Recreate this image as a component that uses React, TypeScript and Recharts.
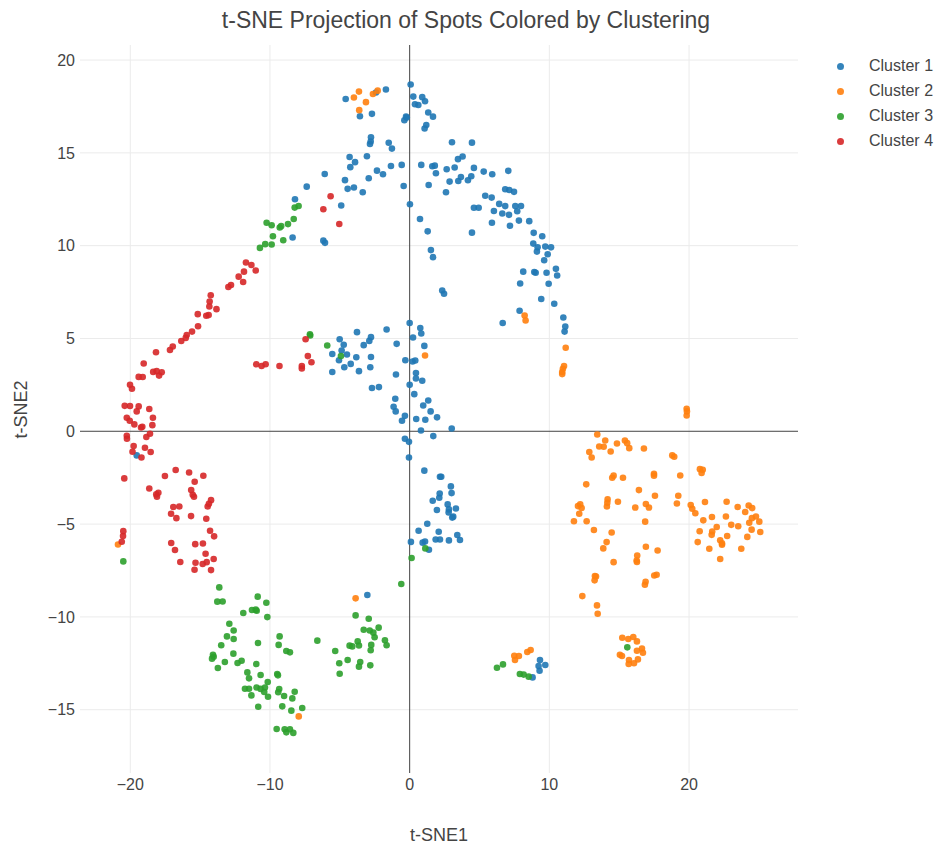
import React from 'react';
import { ScatterChart, Scatter, XAxis, YAxis, ReferenceLine } from 'recharts';

const clusterNames = ['Cluster 1', 'Cluster 2', 'Cluster 3', 'Cluster 4'];
const clusterColors = ['#1f77b4', '#ff7f0e', '#2ca02c', '#d62728'];
const xTicks = [-20, -10, 0, 10, 20];
const yTicks = [-15, -10, -5, 0, 5, 10, 15, 20];

// t-SNE coordinates, one list per cluster
const cluster1 = [
  [-7.37, 13.18], [-8.21, 12.5], [-8.38, 10.44], [-19.54, -1.3],
  [0.07, 18.68], [0.26, 18.03], [0.9, 18.0], [1.1, 17.78], [0.38, 17.62], [0.62, 17.58], [1.33, 17.17], [1.67, 16.95],
  [-0.26, 16.95], [-0.38, 16.76], [-0.21, 16.9], [1.19, 16.5], [1.07, 16.31], [-4.58, 17.9], [-2.41, 18.25], [-1.7, 18.41],
  [-3.56, 16.97], [-2.7, 17.1], [-2.77, 15.84], [-2.79, 15.61], [-2.84, 15.48], [-1.5, 15.54], [-1.27, 15.23], [-3.06, 14.82],
  [-4.3, 14.78], [-3.91, 14.5], [-4.25, 14.23], [-6.08, 13.86], [-4.63, 13.53], [-4.44, 13.06], [-3.99, 13.13], [-3.36, 12.88],
  [-2.93, 13.63], [-2.34, 14.04], [-1.91, 13.85], [-1.34, 14.29], [-0.57, 14.35], [-0.43, 13.21], [0.02, 12.23], [-4.9, 12.16],
  [-6.18, 10.27], [-6.06, 10.15], [0.74, 11.44], [1.29, 10.77], [1.52, 9.76], [1.67, 9.38], [2.33, 7.58], [2.46, 7.41],
  [0.83, 14.35], [1.62, 14.28], [1.8, 14.31], [1.88, 13.9], [1.36, 13.27], [2.65, 14.12], [3.22, 14.21], [2.86, 13.45],
  [3.48, 13.48], [2.6, 12.88], [3.03, 15.57], [4.46, 15.55], [3.46, 14.66], [3.79, 14.8], [3.67, 13.7], [4.17, 13.52],
  [4.41, 13.74], [4.6, 14.19], [5.3, 13.99], [5.91, 13.85], [7.06, 14.03], [4.6, 12.04], [4.94, 12.04], [5.41, 12.69],
  [5.87, 12.59], [6.84, 13.04], [7.13, 13.0], [7.47, 12.9], [6.41, 12.25], [6.84, 12.13], [6.03, 11.87], [6.63, 11.73],
  [7.11, 11.66], [7.56, 12.13], [7.97, 12.14], [7.7, 11.85], [5.89, 11.23], [7.18, 11.07], [7.82, 11.35], [8.56, 11.32],
  [4.46, 10.7], [8.88, 10.69], [9.49, 10.51], [8.85, 10.11], [9.16, 9.91], [9.11, 9.68], [9.71, 9.95], [10.12, 9.91],
  [9.88, 9.54], [9.63, 9.21], [10.47, 8.75], [8.13, 8.6], [8.92, 8.58], [9.02, 8.54], [9.8, 8.54], [7.91, 7.96],
  [10.56, 8.39], [9.95, 7.95], [9.42, 7.13], [10.35, 6.87], [7.87, 6.49], [6.66, 5.83], [11.0, 6.13], [11.14, 5.64], [11.09, 5.37],
  [0.0, 5.83], [0.76, 5.56], [0.83, 5.27], [0.24, 5.05], [-1.65, 5.48], [-3.77, 5.34], [-5.01, 4.96], [-4.72, 4.66],
  [-5.54, 4.16], [-4.87, 4.35], [-5.06, 3.83], [-4.49, 4.14], [-4.68, 3.45], [-4.22, 3.63], [-5.54, 3.19], [-3.82, 3.99],
  [-3.63, 3.24], [-2.77, 5.07], [-2.89, 4.87], [-3.29, 4.64], [-2.77, 4.0], [-2.82, 3.45], [-2.7, 2.33], [-2.2, 2.38],
  [-0.93, 4.71], [-0.31, 3.83], [0.21, 3.76], [0.4, 3.81], [1.05, 4.6], [-0.98, 3.06], [0.45, 3.14], [0.45, 2.84],
  [0.9, 2.72], [0.0, 2.5], [0.33, 2.0], [-1.03, 1.75], [-1.15, 1.32], [-1.0, 1.07], [-0.34, 0.83], [-0.55, 0.57],
  [0.97, 1.39], [1.33, 1.66], [1.5, 1.07], [1.96, 0.75], [0.47, 0.66], [1.12, 0.62], [0.81, 0.04], [3.01, 0.15],
  [-0.34, -0.4], [-0.05, -0.57], [1.69, -0.26], [-0.05, -1.41], [1.05, -2.12], [2.17, -2.45], [2.26, -2.45], [2.95, -2.97],
  [3.0, -3.33], [2.15, -3.35], [2.12, -3.58], [1.65, -3.74], [2.72, -3.94], [2.81, -4.21], [2.79, -4.37], [3.31, -4.16],
  [1.95, -4.24], [3.12, -4.6], [3.05, -4.65], [1.26, -4.98], [0.64, -5.36], [2.08, -5.41], [3.41, -5.59], [3.6, -5.86],
  [1.86, -5.83], [2.17, -5.83], [2.81, -5.88], [0.09, -5.96], [0.93, -6.0], [1.1, -5.94], [1.38, -6.38], [-3.03, -8.82],
  [9.33, -12.32], [9.71, -12.59], [9.23, -12.65], [9.3, -12.9], [8.8, -13.26],
];

const cluster2 = [
  [-3.99, 17.98], [-3.63, 18.3], [-3.13, 17.73], [-2.63, 18.17], [-2.29, 18.35], [-3.61, 17.3],
  [1.1, 4.08], [8.23, 6.24], [8.3, 5.97], [11.17, 4.5], [11.05, 3.51], [10.97, 3.37], [10.92, 3.19], [10.92, 3.08],
  [19.83, 1.21], [19.85, 1.07], [19.83, 0.85], [13.43, -0.17], [14.0, -0.5], [13.57, -0.82], [13.89, -0.83], [14.39, -1.09],
  [14.84, -0.66], [15.41, -0.5], [15.57, -0.64], [15.72, -0.91], [16.77, -0.93], [12.86, -1.12], [13.03, -1.41], [18.8, -1.3],
  [18.94, -1.37], [20.78, -2.04], [20.98, -2.07], [20.9, -2.25], [17.49, -2.29], [17.49, -2.39], [19.37, -2.38], [14.5, -2.5],
  [14.6, -2.39], [15.27, -2.5], [12.64, -2.86], [16.41, -3.17], [17.56, -3.47], [19.23, -3.47], [19.13, -3.89], [14.17, -3.67],
  [14.15, -3.85], [14.12, -4.05], [14.91, -3.8], [12.05, -4.03], [12.21, -3.94], [12.31, -4.13], [12.14, -4.44], [11.76, -4.85],
  [12.67, -4.85], [16.15, -4.11], [16.91, -3.92], [17.13, -4.11], [16.86, -4.87], [20.12, -3.97], [20.23, -4.17], [20.45, -4.42],
  [21.14, -3.81], [21.02, -4.8], [21.64, -4.62], [22.64, -4.59], [22.69, -3.8], [23.48, -4.08], [24.02, -4.35], [24.27, -4.0],
  [24.52, -4.14], [24.79, -4.59], [24.5, -4.68], [24.31, -4.93], [25.03, -4.87], [25.1, -5.43], [24.48, -5.3], [23.02, -5.04],
  [23.52, -5.12], [21.98, -5.16], [21.66, -5.4], [21.62, -5.58], [20.76, -5.39], [22.73, -5.64], [22.23, -5.87], [22.36, -6.04],
  [24.17, -5.69], [14.1, -5.97], [14.46, -5.45], [13.19, -5.32], [20.62, -5.97], [13.86, -6.31], [16.91, -6.22], [17.75, -6.42],
  [14.6, -7.05], [16.29, -6.69], [16.25, -6.96], [16.27, -7.04], [13.26, -7.8], [13.24, -8.03], [13.34, -7.82], [16.89, -8.11],
  [16.84, -8.27], [17.51, -7.77], [17.68, -7.73], [12.36, -8.88], [13.41, -9.38], [13.46, -9.83], [15.22, -11.12], [15.65, -11.19],
  [16.01, -11.08], [16.27, -11.32], [16.63, -11.7], [16.7, -11.93], [16.27, -11.82], [15.05, -12.04], [15.2, -12.11], [15.7, -12.32],
  [15.68, -12.54], [16.06, -12.5], [16.34, -12.29], [21.45, -6.33], [22.36, -6.11], [23.74, -6.33], [22.23, -6.88],
  [-20.88, -6.1], [-7.94, -15.36], [-3.87, -9.0], [7.49, -12.09], [7.82, -12.11], [7.54, -12.32], [8.42, -11.89], [8.66, -11.78],
];

const cluster3 = [
  [-8.23, 12.05], [-7.95, 12.14], [-10.24, 11.23], [-9.88, 11.1], [-9.3, 10.98], [-9.2, 11.05], [-8.71, 11.16], [-8.3, 11.44],
  [-9.79, 10.51], [-9.05, 10.29], [-10.34, 10.08], [-9.88, 10.06], [-10.72, 9.88], [-7.14, 5.23], [-7.12, 5.16], [-5.9, 4.62],
  [-4.92, 4.05], [-20.5, -7.01], [-13.63, -8.41], [-13.77, -9.18], [-13.39, -9.17], [-10.88, -8.91], [-10.26, -9.24], [-11.29, -9.63],
  [-11.02, -9.61], [-10.95, -9.67], [-11.91, -9.79], [-10.19, -10.01], [-12.91, -10.37], [-12.6, -10.73], [-13.08, -11.05], [-12.6, -11.19],
  [-9.31, -11.05], [-9.38, -11.51], [-10.86, -11.41], [-13.49, -11.53], [-8.83, -11.84], [-8.57, -11.91], [-14.08, -12.04], [-14.03, -12.15],
  [-14.15, -12.25], [-12.62, -11.98], [-13.23, -12.43], [-12.32, -12.48], [-12.03, -12.36], [-10.98, -12.54], [-13.73, -12.75], [-6.61, -11.28],
  [-11.62, -12.99], [-10.67, -13.13], [-11.5, -13.31], [-9.48, -13.08], [-9.43, -13.15], [-10.16, -13.51], [-11.79, -13.87], [-11.5, -13.87],
  [-10.96, -13.8], [-10.67, -13.88], [-10.36, -13.8], [-10.41, -14.05], [-9.34, -13.89], [-9.41, -14.06], [-11.33, -14.23], [-10.14, -14.3],
  [-8.99, -14.26], [-8.23, -14.03], [-8.4, -14.39], [-10.84, -14.84], [-9.12, -14.82], [-8.47, -15.05], [-7.69, -14.91], [-9.52, -16.04],
  [-8.95, -16.05], [-8.83, -16.22], [-8.57, -16.05], [-8.33, -16.25], [1.12, -6.31], [0.14, -6.83], [-0.6, -8.23], [-3.87, -9.92],
  [-2.93, -10.1], [-2.22, -10.58], [-3.29, -10.69], [-2.86, -10.73], [-2.6, -10.85], [-2.51, -11.1], [-3.72, -11.32], [-1.77, -11.26],
  [-1.65, -11.53], [-4.3, -11.55], [-4.11, -11.59], [-3.63, -11.54], [-2.75, -11.51], [-2.79, -11.8], [-5.33, -11.84], [-4.44, -12.32],
  [-5.04, -12.5], [-3.54, -12.43], [-3.63, -12.68], [-2.82, -12.61], [-5.01, -13.06], [6.25, -12.74], [6.68, -12.56], [7.89, -13.08],
  [8.16, -13.11], [8.52, -13.22], [15.58, -11.64],
];

const cluster4 = [
  [-11.72, 9.09], [-11.33, 8.96], [-11.02, 8.66], [-11.86, 8.6], [-12.24, 8.33], [-11.92, 8.04], [-12.79, 7.88], [-12.98, 7.77],
  [-14.24, 7.33], [-14.32, 6.99], [-14.34, 6.72], [-13.83, 6.58], [-15.17, 6.31], [-14.56, 6.22], [-14.39, 6.26], [-15.15, 5.66],
  [-15.58, 5.37], [-15.96, 5.18], [-16.03, 5.03], [-16.35, 4.86], [-16.96, 4.57], [-17.16, 4.38], [-18.16, 4.26], [-19.04, 3.65],
  [-18.36, 3.2], [-18.11, 3.24], [-17.75, 3.18], [-17.94, 3.0], [-19.4, 2.93], [-19.11, 2.92], [-20.02, 2.5], [-19.88, 2.29],
  [-20.4, 1.37], [-20.02, 1.36], [-19.4, 1.34], [-18.64, 1.2], [-19.54, 1.07], [-20.25, 0.73], [-20.04, 0.57], [-18.38, 0.73],
  [-19.71, 0.37], [-18.42, 0.33], [-19.23, 0.2], [-19.14, 0.24], [-18.59, -0.13], [-18.85, -0.31], [-20.25, -0.24], [-20.24, -0.4],
  [-19.76, -0.8], [-18.95, -0.89], [-19.84, -1.1], [-18.54, -1.12], [-19.2, -1.41], [-20.43, -2.54], [-17.52, -2.41], [-16.75, -2.09],
  [-15.79, -2.22], [-14.77, -2.4], [-15.39, -2.72], [-18.64, -3.08], [-17.99, -3.31], [-18.14, -3.4], [-18.09, -3.53], [-15.64, -3.17],
  [-15.53, -3.42], [-15.44, -3.53], [-14.22, -3.71], [-14.37, -3.91], [-14.46, -4.05], [-16.92, -4.08], [-16.49, -4.05], [-17.08, -4.44],
  [-16.7, -4.68], [-15.65, -4.57], [-14.56, -4.71], [-14.29, -5.36], [-14.0, -5.66], [-17.07, -6.02], [-15.35, -6.08], [-14.8, -6.05],
  [-20.5, -5.38], [-20.52, -5.64], [-20.61, -5.95], [-16.8, -6.4], [-16.42, -7.04], [-14.61, -6.6], [-14.03, -6.88], [-14.53, -7.05],
  [-14.82, -7.15], [-15.33, -7.08], [-15.4, -7.46], [-14.22, -7.48], [-10.98, 3.61], [-10.6, 3.52], [-10.31, 3.61], [-9.32, 3.52],
  [-7.72, 3.52], [-7.72, 3.38], [-7.29, 4.05], [-7.03, 3.72], [-7.45, 4.96], [-5.66, 12.66], [-6.18, 11.96], [-5.04, 11.17],
];

const clusters = [cluster1, cluster2, cluster3, cluster4];

const font = '"Liberation Sans", Arial, sans-serif';
const textColor = '#444';
const gridColor = '#ebebeb';

const toPoints = (pairs: number[][]) => pairs.map(([x, y]) => ({ x, y }));
const fmt = (v: number) => (v < 0 ? '\u2212' + Math.abs(v) : String(v));

const dot = (color: string) => (props: any) =>
  <circle cx={props.cx} cy={props.cy} r={3.3} fill={color} fillOpacity={0.9} />;

export default function App() {
  return (
    <div style={{ position: 'absolute', left: 0, top: 0, width: 936, height: 853, overflow: 'hidden', background: '#fff', fontFamily: font, color: textColor }}>
      <ScatterChart width={936} height={853} margin={{ top: 45, right: 138, bottom: 40, left: 20 }}>
        <XAxis
          type="number"
          dataKey="x"
          domain={[-23.6, 27.8]}
          ticks={xTicks}
          allowDataOverflow
          height={40}
          axisLine={false}
          tickLine={false}
          tickSize={4}
          tickMargin={2}
          tickFormatter={fmt}
          tick={{ fill: textColor, fontSize: 16, fontFamily: font }}
        />
        <YAxis
          type="number"
          dataKey="y"
          domain={[-18.41, 20.81]}
          ticks={yTicks}
          allowDataOverflow
          width={60}
          axisLine={false}
          tickLine={false}
          tickSize={4}
          tickMargin={1}
          tickFormatter={fmt}
          tick={{ fill: textColor, fontSize: 16, fontFamily: font }}
        />
        {xTicks.filter((t) => t !== 0).map((t) => (
          <ReferenceLine key={'gx' + t} x={t} stroke={gridColor} strokeWidth={1} />
        ))}
        {yTicks.filter((t) => t !== 0).map((t) => (
          <ReferenceLine key={'gy' + t} y={t} stroke={gridColor} strokeWidth={1} />
        ))}
        <ReferenceLine x={0} stroke="#444" strokeWidth={1} />
        <ReferenceLine y={0} stroke="#444" strokeWidth={1} />
        {clusters.map((c, i) => (
          <Scatter
            key={clusterNames[i]}
            name={clusterNames[i]}
            data={toPoints(c)}
            fill={clusterColors[i]}
            shape={dot(clusterColors[i])}
            isAnimationActive={false}
          />
        ))}
      </ScatterChart>

      <div style={{ position: 'absolute', left: 0, width: 932, top: 7, textAlign: 'center', fontSize: 23, whiteSpace: 'nowrap' }}>
        t-SNE Projection of Spots Colored by Clustering
      </div>
      <div style={{ position: 'absolute', left: 339, width: 200, top: 825, textAlign: 'center', fontSize: 18 }}>
        t-SNE1
      </div>
      <div style={{ position: 'absolute', left: 21, top: 410, width: 0, height: 0 }}>
        <div style={{ position: 'absolute', left: -100, top: -11, width: 200, textAlign: 'center', fontSize: 18, transform: 'rotate(-90deg)' }}>
          t-SNE2
        </div>
      </div>

      {clusterNames.map((n, i) => (
        <div key={n} style={{ position: 'absolute', left: 837, top: 56 + i * 25, height: 20, display: 'flex', alignItems: 'center', fontSize: 16, whiteSpace: 'nowrap' }}>
          <span style={{ display: 'inline-block', width: 7, height: 7, borderRadius: '50%', background: clusterColors[i], opacity: 0.9, marginRight: 25 }} />
          {n}
        </div>
      ))}
    </div>
  );
}
